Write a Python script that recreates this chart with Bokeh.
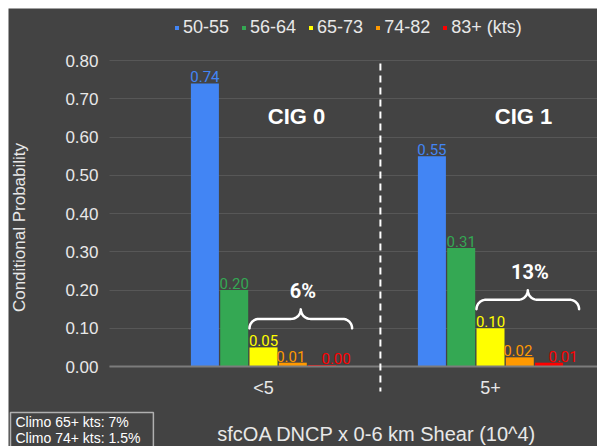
import numpy as np
from bokeh.plotting import figure
from bokeh.models import (Range1d, FixedTicker, NumeralTickFormatter, ColumnDataSource,
                          Legend, LegendItem, Label, Arrow)
from bokeh.core.properties import value
from bokeh.embed import file_html
from bokeh.resources import INLINE

# ---------------- data ----------------
categories = ["<5", "5+"]
series = ["50-55", "56-64", "65-73", "74-82", "83+ (kts)"]
colors = ["#4285f4", "#34a853", "#ffff00", "#ff9900", "#ff0000"]
values_lt5 = [0.74, 0.20, 0.05, 0.01, 0.004]
values_5p = [0.55, 0.31, 0.10, 0.024, 0.01]
cig_labels = ["CIG 0", "CIG 1"]
y_ticks = [0.0, 0.1, 0.2, 0.3, 0.4, 0.5, 0.6, 0.7, 0.8]
climo_lines = ["Climo 65+ kts: 7%", "Climo 74+ kts: 1.5%"]
x_title = "sfcOA DNCP x 0-6 km Shear (10^4)"
y_title = "Conditional Probability"

# ---------------- layout constants ----------------
BG = "#434343"
TXT = "#e8e8e8"
FONT = "Liberation Sans"
W, H = 589, 438
cat_pos = [0.5, 1.5]
PXX = 1 / 227.0      # data units per pixel (x)
PXY = 0.8 / 306.0    # data units per pixel (y)
X0 = 0.5 - 255 * PXX
X1 = X0 + W * PXX
Y1 = 358 * PXY
Y0 = Y1 - H * PXY
YAX_X = 0.5 - 154 * PXX
step = 29.3 * PXX
bw = 28.0 * PXX
DIV_X = 1.015

p = figure(width=W, height=H, x_range=Range1d(X0, X1), y_range=Range1d(Y0, Y1),
           output_backend="svg", toolbar_location=None,
           min_border_left=0, min_border_right=0, min_border_top=0, min_border_bottom=0,
           background_fill_color=BG, border_fill_color=BG, outline_line_color=None,
           margin=(8, 0, 0, 8))

values_by_cat = [values_lt5, values_5p]
renderers = []
lab_x, lab_y, lab_t, lab_c, lab_off = [], [], [], [], []
for i, s in enumerate(series):
    xs = [cat_pos[j] + (i - 2) * step for j in range(len(categories))]
    tops = [values_by_cat[j][i] for j in range(len(categories))]
    r = p.vbar(x=xs, top=tops, width=bw, fill_color=colors[i], line_color=None)
    renderers.append(r)
    for j in range(len(categories)):
        lab_x.append(xs[j])
        lab_y.append(tops[j])
        lab_t.append(f"{tops[j]:.2f}")
        lab_c.append(colors[i])
        lab_off.append(14 if i == 4 else (-2 if i == 3 else 0))

src = ColumnDataSource(dict(x=lab_x, y=lab_y, t=lab_t, c=lab_c, off=lab_off))
p.text(x="x", y="y", text="t", source=src, text_color="c", x_offset="off", y_offset=-1,
       text_align="center", text_baseline="bottom", text_font=value("Roboto"),
       text_font_size="15px")

# CIG labels
p.text(x=[c + 33 * PXX for c in cat_pos], y=[(366 - 116) * PXY] * 2, text=cig_labels,
       text_align="center", text_baseline="middle", text_color="white",
       text_font=value(FONT), text_font_style="bold", text_font_size="22px")

# braces over 65+ bars with summed percentages
r = 9.5
bx, by, px_, py_, pt = [], [], [], [], []
for j in range(len(categories)):
    vals = values_by_cat[j]
    xl = cat_pos[j] - bw / 2
    xr = cat_pos[j] + 2 * step + bw / 2 + 16 * PXX
    xc = (xl + xr) / 2
    yb = vals[2] + 19 * PXY
    t1 = np.linspace(np.pi, np.pi / 2, 12)
    t2 = np.linspace(1.5 * np.pi, 2 * np.pi, 12)
    lx = list(xl + (r + r * np.cos(t1)) * PXX) + list(xc + (-r + r * np.cos(t2)) * PXX)
    ly = list(yb + (r * np.sin(t1)) * PXY) + list(yb + (2 * r + r * np.sin(t2)) * PXY)
    rx = [2 * xc - v for v in lx[::-1]]
    ry = ly[::-1]
    bx.append(lx + rx)
    by.append(ly + ry)
    px_.append(xc + 2 * PXX)
    py_.append(yb + (2 * r + 18) * PXY)
    pt.append(f"{round(sum(vals[2:]) * 100)}%")
p.multi_line(xs=bx, ys=by, line_color="white", line_width=2.5, line_join="round", line_cap="round")
p.text(x=px_, y=py_, text=pt, text_align="center", text_baseline="middle", text_color="white",
       text_font=value("Roboto"), text_font_style="bold", text_font_size="20px")

# divider
p.add_layout(Arrow(end=None, x_start=DIV_X, y_start=0.8 - 3 * PXY, x_end=DIV_X, y_end=-25 * PXY,
                   line_color="white", line_width=2, line_dash="7 5"))

# y axis (drawn at a fixed x location)
yax = p.yaxis[0]
yax.fixed_location = YAX_X
yax.ticker = FixedTicker(ticks=y_ticks)
yax.formatter = NumeralTickFormatter(format="0.00")
yax.major_label_text_font = FONT
yax.major_label_text_font_size = "17px"
yax.major_label_text_color = TXT
yax.major_tick_out = 0
yax.major_tick_in = 0
yax.major_tick_line_color = None
yax.minor_tick_line_color = None
yax.axis_line_color = None
yax.major_label_standoff = 11
yax.axis_label = y_title
yax.axis_label_text_font = FONT
yax.axis_label_text_font_size = "17px"
yax.axis_label_text_font_style = "normal"
yax.axis_label_text_color = TXT
yax.axis_label_standoff = 33

# x axis (drawn at y = 0)
xax = p.xaxis[0]
xax.fixed_location = 0
xax.bounds = (YAX_X, X1)
xax.ticker = FixedTicker(ticks=cat_pos)
xax.major_label_overrides = {cat_pos[k]: categories[k] for k in range(len(categories))}
xax.major_label_text_font = FONT
xax.major_label_text_font_size = "18px"
xax.major_label_text_color = TXT
xax.major_tick_line_color = None
xax.minor_tick_line_color = None
xax.axis_line_color = "#7c7c7c"
xax.axis_line_width = 2
xax.major_label_standoff = 5

p.ygrid.ticker = FixedTicker(ticks=y_ticks)
p.ygrid.cross_bounds = (YAX_X, X1)
p.ygrid.grid_line_color = "#575757"
p.ygrid.grid_line_width = 1
p.xgrid.grid_line_color = None

# x title
p.add_layout(Label(x=1.0, y=-(433 - 366) * PXY, text=x_title, text_align="center",
                   text_baseline="middle", text_color=TXT, text_font=FONT, text_font_size="20px"))

# climo box
p.add_layout(Label(x=0.5 - (263 - 10) * PXX, y=-(412 - 366) * PXY, text="\n".join(climo_lines),
                   text_align="left", text_baseline="top", text_color="white", text_font=FONT,
                   text_font_size="14px", text_line_height=1.0,
                   border_line_color="#b0b0b0", border_line_width=1.5,
                   background_fill_color=BG, padding=dict(left=5, right=13, top=1, bottom=6)))

# legend
legend = Legend(items=[LegendItem(label=s, renderers=[renderers[i]]) for i, s in enumerate(series)],
                orientation="horizontal", location=(166, 408), padding=0, margin=0, spacing=12,
                label_standoff=4, glyph_width=5, glyph_height=5, label_text_font=FONT,
                label_text_font_size="18px", label_text_color=TXT,
                background_fill_alpha=0, border_line_alpha=0)
p.add_layout(legend)

open("out.html", "w").write(file_html(p, INLINE))
